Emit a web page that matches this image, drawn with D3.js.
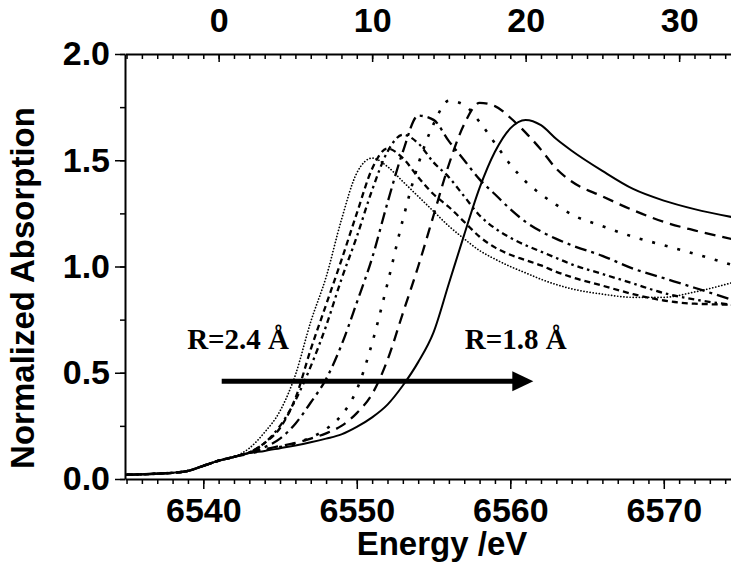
<!DOCTYPE html>
<html>
<head>
<meta charset="utf-8">
<script src="https://cdn.jsdelivr.net/npm/d3@7"></script>
<style>
body{margin:0;background:#fff;}
svg{display:block;background:#fff;}
.axis text{font-family:"Liberation Sans",Arial,sans-serif;font-weight:bold;font-size:34px;fill:#000;}
.axis path,.axis line{stroke:#000;}
.axis path{stroke-width:2;}
.axis line{stroke-width:1.5;}
</style>
</head>
<body>
<svg></svg>
<script>
var width = 731;
var height = 562;

//energy grid (eV) shared by all spectra
var energy = [6535,6536,6537,6538,6539,6540,6541,6542,6543,6544,6545,6546,6547,6548,6549,6550,
    6551,6552,6553,6554,6555,6556,6557,6558,6559,6560,6561,6562,6563,6564,6566,6568,6570,6572,6575];
//pre-edge part, same for every distance (6535-6542)
var preEdge = [0.020,0.022,0.025,0.029,0.038,0.062,0.086,0.104];
//edge + white line part (6543 onwards), one list per Fe-O distance
var r24 = [0.145,0.22,0.32,0.49,0.74,0.95,1.22,1.44,1.51,1.47,1.40,1.33,1.26,1.19,1.13,1.075,1.035,1.0,0.97,0.94,0.915,0.895,0.87,0.855,0.855,0.88,0.935];
var r23 = [0.125,0.17,0.24,0.38,0.61,0.82,1.03,1.25,1.46,1.555,1.51,1.42,1.34,1.28,1.21,1.14,1.09,1.055,1.03,1.005,0.975,0.95,0.91,0.87,0.84,0.825,0.82];
var r22 = [0.125,0.17,0.25,0.37,0.53,0.72,0.94,1.14,1.36,1.54,1.62,1.58,1.49,1.42,1.33,1.24,1.18,1.135,1.10,1.07,1.04,1.01,0.965,0.92,0.875,0.845,0.815];
var r21 = [0.125,0.15,0.19,0.26,0.36,0.47,0.63,0.83,1.04,1.30,1.54,1.71,1.69,1.59,1.50,1.41,1.34,1.27,1.21,1.165,1.13,1.10,1.05,0.99,0.945,0.90,0.83];
var r20 = [0.12,0.135,0.15,0.168,0.195,0.235,0.30,0.42,0.64,0.92,1.22,1.48,1.67,1.78,1.76,1.68,1.58,1.48,1.40,1.34,1.29,1.245,1.19,1.14,1.10,1.06,0.995];
var r19 = [0.122,0.14,0.155,0.17,0.19,0.215,0.25,0.31,0.40,0.56,0.78,1.0,1.24,1.48,1.67,1.77,1.755,1.70,1.63,1.55,1.46,1.40,1.33,1.265,1.21,1.17,1.12];
var r18 = [0.122,0.132,0.145,0.158,0.173,0.19,0.21,0.245,0.29,0.35,0.44,0.55,0.69,0.92,1.15,1.37,1.54,1.65,1.69,1.665,1.60,1.545,1.45,1.365,1.31,1.27,1.225];

//tick values
var bottomMajor = [6540,6550,6560,6570];
var topMajor = [0,10,20,30];
var edgeEnergy = 6541;
var yMajor = [0,0.5,1.0,1.5,2.0];

//annotation values (data units)
var labelLeft = {e:6538.95, v:0.612, text:"R=2.4 \u00C5"};
var labelRight = {e:6557.03, v:0.612, text:"R=1.8 \u00C5"};
var arrowFrom = {e:6541.2, v:0.46};
var arrowTo = {e:6561.5, v:0.46};

var styles = [
    {data:r24, dash:"0.1,3", w:1.7, cap:"round"},
    {data:r23, dash:"6,4", w:2.3, cap:"butt"},
    {data:r22, dash:"6,4,2.5,4", w:2.3, cap:"butt"},
    {data:r21, dash:"12,5,3,5", w:2.3, cap:"butt"},
    {data:r20, dash:"3,10", w:2.6, cap:"butt"},
    {data:r19, dash:"11,7", w:2.3, cap:"butt"},
    {data:r18, dash:null, w:2, cap:"butt"}
];

var svg = d3.select("svg")
    .attr("width", width)
    .attr("height", height);

//scales
var pxPerEv = 15.35;
var x = d3.scaleLinear()
    .domain([6534.9, 6575.3])
    .range([125, 125 + 40.4 * pxPerEv]);
var xTop = d3.scaleLinear()
    .domain([6534.9 - edgeEnergy, 6575.3 - edgeEnergy])
    .range(x.range());
var y = d3.scaleLinear()
    .domain([0, 2])
    .range([479, 54]);

//bottom axis: minor then major
svg.append("g")
    .attr("class", "axis")
    .attr("transform", "translate(0," + y(0) + ")")
    .call(d3.axisBottom(x).tickValues(d3.range(6535, 6576)).tickSize(5).tickSizeOuter(0).tickFormat(""));
svg.append("g")
    .attr("class", "axis")
    .attr("transform", "translate(0," + y(0) + ")")
    .call(d3.axisBottom(x).tickValues(bottomMajor).tickSize(10).tickSizeOuter(0).tickPadding(9).tickFormat(d3.format("d")))
    .select(".domain").remove();

//top axis, ticks pointing inward
svg.append("g")
    .attr("class", "axis")
    .attr("transform", "translate(0," + y(2) + ")")
    .call(d3.axisTop(xTop).tickValues(d3.range(-6, 35)).tickSize(-5).tickSizeOuter(0).tickFormat(""));
svg.append("g")
    .attr("class", "axis")
    .attr("transform", "translate(0," + y(2) + ")")
    .call(d3.axisTop(xTop).tickValues(topMajor).tickSize(-8).tickSizeOuter(0).tickPadding(22).tickFormat(d3.format("d")))
    .select(".domain").remove();

//left axis
svg.append("g")
    .attr("class", "axis")
    .attr("transform", "translate(" + x.range()[0] + ",0)")
    .call(d3.axisLeft(y).tickValues(d3.range(0, 2.01, 0.25)).tickSize(5).tickSizeOuter(0).tickFormat(""));
svg.append("g")
    .attr("class", "axis")
    .attr("transform", "translate(" + x.range()[0] + ",0)")
    .call(d3.axisLeft(y).tickValues(yMajor).tickSize(10).tickSizeOuter(0).tickPadding(5).tickFormat(d3.format(".1f")))
    .select(".domain").remove();

//spectra
var line = d3.line()
    .x((d, i) => x(energy[i]))
    .y(d => y(d))
    .curve(d3.curveMonotoneX);

svg.append("g")
    .selectAll("path")
    .data(styles)
    .enter()
    .append("path")
        .attr("d", d => line(preEdge.concat(d.data)))
        .attr("fill", "none")
        .attr("stroke", "#000")
        .attr("stroke-width", d => d.w)
        .attr("stroke-linecap", d => d.cap)
        .attr("stroke-dasharray", d => d.dash);

//arrow
svg.append("line")
    .attr("x1", x(arrowFrom.e))
    .attr("y1", y(arrowFrom.v))
    .attr("x2", x(arrowTo.e) - 18)
    .attr("y2", y(arrowTo.v))
    .attr("stroke", "#000")
    .attr("stroke-width", 5);
svg.append("path")
    .attr("d", "M" + x(arrowTo.e) + "," + y(arrowTo.v) +
        "L" + (x(arrowTo.e) - 21) + "," + (y(arrowTo.v) - 10) +
        "L" + (x(arrowTo.e) - 21) + "," + (y(arrowTo.v) + 10) + "Z")
    .attr("fill", "#000");

//R labels
[labelLeft, labelRight].forEach(function(l){
    svg.append("text")
        .attr("x", x(l.e))
        .attr("y", y(l.v))
        .style("font-family", "'Liberation Serif','Times New Roman',serif")
        .style("font-weight", "bold")
        .style("font-size", "29px")
        .text(l.text);
});

//axis titles
svg.append("text")
    .attr("x", 442)
    .attr("y", 555)
    .style("text-anchor", "middle")
    .style("font-family", "'Liberation Sans',Arial,sans-serif")
    .style("font-weight", "bold")
    .style("font-size", "33px")
    .text("Energy /eV");
svg.append("text")
    .attr("x", -288)
    .attr("y", 34)
    .attr("transform", "rotate(-90)")
    .style("text-anchor", "middle")
    .style("font-family", "'Liberation Sans',Arial,sans-serif")
    .style("font-weight", "bold")
    .style("font-size", "33px")
    .text("Normalized Absorption");
</script>
</body>
</html>
